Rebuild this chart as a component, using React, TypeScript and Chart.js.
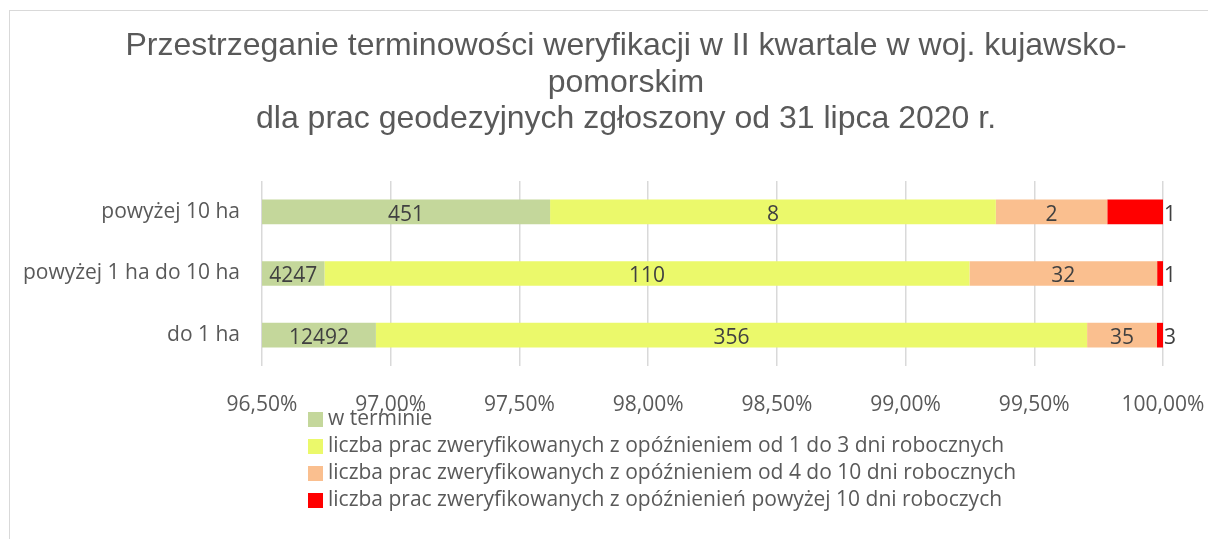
import React, { useEffect, useRef } from "react";
import { Chart, registerables } from "chart.js";

Chart.register(...registerables);

const titleLines = [
  "Przestrzeganie terminowości weryfikacji w II kwartale w woj. kujawsko-",
  "pomorskim",
  "dla prac geodezyjnych zgłoszony od 31 lipca 2020 r.",
];
const categories = ["powyżej 10 ha", "powyżej 1 ha do 10 ha", "do 1 ha"];
const seriesNames = [
  "w terminie",
  "liczba prac zweryfikowanych z opóźnieniem od 1 do 3 dni robocznych",
  "liczba prac zweryfikowanych z opóźnieniem od 4 do 10 dni robocznych",
  "liczba prac zweryfikowanych z opóźnienień powyżej 10 dni roboczych",
];
const onTime = [451, 4247, 12492];
const delay1to3 = [8, 110, 356];
const delay4to10 = [2, 32, 35];
const delayOver10 = [1, 1, 3];
const seriesColors = ["#c4d79b", "#ebf96b", "#fabf8f", "#ff0000"];
const xMin = 96.5;
const xMax = 100;
const xStep = 0.5;

const W = 1208;
const H = 539;
const LABEL_FONT = "'Open Sans', sans-serif";

export default function App() {
  const ref = useRef<HTMLCanvasElement | null>(null);

  useEffect(() => {
    if (!ref.current) return;
    const series = [onTime, delay1to3, delay4to10, delayOver10];
    const totals = categories.map((_, i) => series.reduce((s, arr) => s + arr[i], 0));
    const datasets = series.map((arr, k) => ({
      label: seriesNames[k],
      data: arr.map((v, i) => (v / totals[i]) * 100),
      counts: arr,
      backgroundColor: seriesColors[k],
      borderWidth: 0,
      barPercentage: 0.4,
      categoryPercentage: 1,
    }));

    const titlePlugin = {
      id: "customTitle",
      afterDraw(chart: any) {
        const ctx = chart.ctx;
        ctx.save();
        ctx.fillStyle = "#595959";
        ctx.font = "32px 'Liberation Sans', Arial, sans-serif";
        ctx.textAlign = "center";
        ctx.textBaseline = "alphabetic";
        const ys = [55, 92, 128];
        titleLines.forEach((t, i) => ctx.fillText(t, 626, ys[i]));
        ctx.restore();
      },
    };

    const labelsPlugin = {
      id: "barLabels",
      afterDatasetsDraw(chart: any) {
        const ctx = chart.ctx;
        const area = chart.chartArea;
        ctx.save();
        ctx.fillStyle = "#404040";
        ctx.font = `21px ${LABEL_FONT}`;
        ctx.textBaseline = "middle";
        chart.data.datasets.forEach((ds: any, k: number) => {
          const meta = chart.getDatasetMeta(k);
          meta.data.forEach((el: any, i: number) => {
            const a = Math.max(area.left, Math.min(el.base, el.x));
            const b = Math.min(area.right, Math.max(el.base, el.x));
            const text = String(ds.counts[i]);
            if (k === seriesNames.length - 1) {
              ctx.textAlign = "left";
              ctx.fillText(text, b + 1, el.y + 3);
            } else {
              ctx.textAlign = "center";
              ctx.fillText(text, (a + b) / 2, el.y + 3);
            }
          });
        });
        ctx.restore();
      },
    };

    const legendPlugin = {
      id: "customLegend",
      afterDraw(chart: any) {
        const ctx = chart.ctx;
        ctx.save();
        ctx.font = `21px ${LABEL_FONT}`;
        ctx.textBaseline = "middle";
        ctx.textAlign = "left";
        chart.data.datasets.forEach((ds: any, k: number) => {
          const cy = 419.5 + k * 27;
          ctx.fillStyle = ds.backgroundColor;
          ctx.fillRect(308, cy - 7.5, 15, 15);
          ctx.fillStyle = "#595959";
          ctx.fillText(ds.label, 328, cy);
        });
        ctx.restore();
      },
    };

    const chart = new Chart(ref.current, {
      type: "bar",
      data: { labels: categories, datasets: datasets as any },
      options: {
        animation: false,
        responsive: false,
        devicePixelRatio: 1,
        indexAxis: "y",
        layout: { padding: { top: 181, right: 45, bottom: 0, left: 0 } },
        plugins: {
          legend: { display: false },
          title: { display: false },
          tooltip: { enabled: false },
        },
        scales: {
          x: {
            stacked: true,
            min: xMin,
            max: xMax,
            ticks: {
              stepSize: xStep,
              color: "#595959",
              font: { family: LABEL_FONT, size: 21 },
              padding: 26,
              maxRotation: 0,
              callback: (v: any) => Number(v).toFixed(2).replace(".", ",") + "%",
            },
            grid: { color: "#d9d9d9", lineWidth: 1.5, drawTicks: false },
            border: { display: false },
            afterFit: (s: any) => {
              s.height = 173;
              s.paddingLeft = 0;
              s.paddingRight = 0;
            },
          },
          y: {
            stacked: true,
            ticks: {
              color: "#595959",
              font: { family: LABEL_FONT, size: 21 },
              padding: 22,
            },
            grid: { display: false, drawTicks: false },
            border: { display: false },
            afterFit: (s: any) => {
              s.width = 262;
              s.paddingTop = 0;
              s.paddingBottom = 0;
            },
          },
        },
      },
      plugins: [titlePlugin, labelsPlugin, legendPlugin],
    });
    return () => chart.destroy();
  }, []);

  return (
    <div style={{ position: "fixed", left: 0, top: 0, width: W, height: H, overflow: "hidden", background: "#fff" }}>
      <div
        style={{
          position: "absolute",
          left: 9,
          top: 10,
          width: 1400,
          height: 800,
          border: "1.5px solid #d9d9d9",
          boxSizing: "border-box",
        }}
      />
      <canvas ref={ref} width={W} height={H} style={{ position: "absolute", left: 0, top: 0, width: W, height: H }} />
    </div>
  );
}
